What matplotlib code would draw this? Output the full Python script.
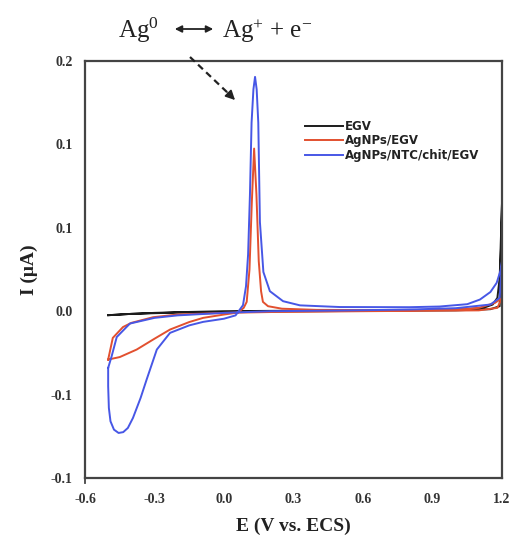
import matplotlib
matplotlib.use("Agg")
import matplotlib.pyplot as plt
from matplotlib.lines import Line2D
from matplotlib.patches import FancyArrowPatch

plt.rcParams['mathtext.fontset'] = 'custom'
plt.rcParams['mathtext.rm'] = 'Liberation Serif'
plt.rcParams['mathtext.it'] = 'Liberation Serif:italic'
plt.rcParams['mathtext.bf'] = 'Liberation Serif:bold'

# ---------------- data ----------------
series_names = ["EGV", "AgNPs/EGV", "AgNPs/NTC/chit/EGV"]

egv_E = [-0.50, -0.45, -0.40, -0.30, -0.20, -0.10, 0.00, 0.30, 0.60, 0.90, 1.05, 1.12, 1.16, 1.18, 1.19, 1.20,
         1.19, 1.15, 1.00, 0.60, 0.20, -0.20, -0.40, -0.50]
egv_I = [-0.0024, -0.0020, -0.0016, -0.0010, -0.0006, -0.0003, 0.0000, 0.0003, 0.0005, 0.0008, 0.0012, 0.0020,
         0.0040, 0.0080, 0.0200, 0.0650,
         0.0030, 0.0012, 0.0005, 0.0002, -0.0002, -0.0008, -0.0016, -0.0024]

red_E = [-0.500, -0.450, -0.377, -0.300, -0.233, -0.150, -0.090, 0.000, 0.060, 0.085, 0.098, 0.110, 0.120, 0.130,
         0.140, 0.150, 0.160, 0.168, 0.190, 0.250, 0.400, 0.800, 1.000, 1.100, 1.170, 1.200,
         1.180, 1.100, 0.600, 0.200, 0.000, -0.200, -0.306, -0.400, -0.436, -0.480, -0.500]
red_I = [-0.0290, -0.0275, -0.0230, -0.0165, -0.0110, -0.0065, -0.0040, -0.0020, -0.0008, 0.0020, 0.0056, 0.0250,
         0.0650, 0.0975, 0.0700, 0.0300, 0.0120, 0.0056, 0.0030, 0.0015, 0.0008, 0.0006, 0.0010, 0.0020, 0.0050,
         0.0080, 0.0020, 0.0005, 0.0000, -0.0005, -0.0010, -0.0020, -0.0036, -0.0070, -0.0095, -0.0160, -0.0290]

blue_E = [-0.500, -0.500, -0.497, -0.490, -0.475, -0.455, -0.435, -0.415, -0.393, -0.360, -0.334, -0.290, -0.233,
          -0.150, -0.090, 0.000, 0.050, 0.082, 0.095, 0.104, 0.112, 0.119, 0.127, 0.134, 0.141, 0.148, 0.155,
          0.170, 0.198, 0.255, 0.328, 0.500, 0.800, 0.930, 1.050, 1.105, 1.150, 1.177, 1.195, 1.200,
          1.190, 1.150, 1.000, 0.800, 0.500, 0.200, 0.000, -0.200, -0.300, -0.406, -0.463, -0.485, -0.500]
blue_I = [-0.0340, -0.0450, -0.0580, -0.0660, -0.0710, -0.0730, -0.0725, -0.0700, -0.0640, -0.0520, -0.0410,
          -0.0230, -0.0130, -0.0085, -0.0064, -0.0045, -0.0025, 0.0036, 0.0150, 0.0340, 0.0700, 0.1130, 0.1330,
          0.1405, 0.1330, 0.1130, 0.0535, 0.0235, 0.0120, 0.0060, 0.0035, 0.0025, 0.0024, 0.0028, 0.0042, 0.0070,
          0.0115, 0.0170, 0.0250, 0.0300,
          0.0080, 0.0040, 0.0018, 0.0010, 0.0004, 0.0000, -0.0010, -0.0025, -0.0040, -0.0074, -0.0155, -0.0270,
          -0.0340]

x_ticks = [-0.6, -0.3, 0.0, 0.3, 0.6, 0.9, 1.2]
x_ticklabels = ["-0.6", "-0.3", "0.0", "0.3", "0.6", "0.9", "1.2"]
y_ticks = [-0.10, -0.05, 0.00, 0.05, 0.10, 0.15]
y_ticklabels = ["-0.1", "-0.1", "0.0", "0.1", "0.1", "0.2"]

colors = ["#1c1c1c", "#e2502f", "#4757e6"]

# ---------------- figure ----------------
W, H = 513, 539
fig = plt.figure(figsize=(W / 100, H / 100), dpi=100)
ax = fig.add_axes([85 / W, 1 - 478 / H, (502 - 85) / W, (478 - 61) / H])

for E, I, c, name in zip([egv_E, red_E, blue_E], [egv_I, red_I, blue_I], colors, series_names):
    ax.plot(E, I, color=c, lw=1.4, label=name, solid_joinstyle='round')

ax.set_xlim(-0.6, 1.2)
ax.set_ylim(-0.10, 0.15)

serif = 'Liberation Serif'
ax.set_xticks(x_ticks)
ax.set_xticklabels(x_ticklabels, fontfamily=serif, fontweight='bold', fontsize=10, color='#333333')
ax.set_yticks(y_ticks)
ax.set_yticklabels(y_ticklabels, fontfamily=serif, fontweight='bold', fontsize=10, color='#333333')
ax.tick_params(axis='both', which='major', length=0)
ax.tick_params(axis='x', which='major', pad=11)
ax.tick_params(axis='y', which='major', pad=9)
ax.set_xticks([0.0, 0.6, 1.2], minor=True)
ax.set_yticks([-0.1, 0.0, 0.1], minor=True)
ax.tick_params(axis='x', which='minor', direction='in', length=5, width=1.3, color='#444444')
ax.tick_params(axis='y', which='minor', direction='out', length=5, width=1.3, color='#444444')
# corner tick at -0.6 crossing the bottom axis
fig.add_artist(Line2D([85 / W, 85 / W], [1 - 483 / H, 1 - 473 / H], transform=fig.transFigure,
                      color='#444444', lw=1.3))

for s in ax.spines.values():
    s.set_linewidth(1.6)
    s.set_color('#444444')

ax.set_xlabel("E (V vs. ECS)", fontfamily=serif, fontweight='bold', fontsize=14, labelpad=8, color='#222222')
ax.set_ylabel("I (\u03bcA)", fontfamily=serif, fontweight='bold', fontsize=14, labelpad=9, color='#222222')

leg = ax.legend(loc='upper left', bbox_to_anchor=((305 - 85) / 417, 1 - (120 - 61) / 417), frameon=False,
                prop={'family': 'DejaVu Sans', 'weight': 'bold', 'size': 8.5},
                handlelength=3.2, handletextpad=0.2, labelspacing=0.12, borderpad=0, borderaxespad=0)
for t in leg.get_texts():
    t.set_color('#222222')

# annotation at top
fig.text(118 / W, 1 - 38 / H, r"Ag$^{\mathrm{0}}$", fontfamily=serif, fontsize=18, ha='left', va='baseline',
         color='#222222')
fig.text(222 / W, 1 - 38 / H, r"Ag$^{\mathrm{+}}$ + e$^{\mathrm{-}}$", fontfamily=serif, fontsize=18,
         ha='left', va='baseline', color='#222222')
fig.add_artist(FancyArrowPatch((172 / W, 1 - 29 / H), (216 / W, 1 - 29 / H), transform=fig.transFigure,
                               arrowstyle='<|-|>', mutation_scale=10, lw=1.3, color='#222222'))
# dashed pointer arrow
fig.add_artist(Line2D([190 / W, 229 / W], [1 - 57 / H, 1 - 94 / H], transform=fig.transFigure,
                      color='#222222', lw=1.6, ls=(0, (3, 2))))
fig.add_artist(FancyArrowPatch((226 / W, 1 - 91 / H), (237 / W, 1 - 102 / H), transform=fig.transFigure,
                               arrowstyle='-|>', mutation_scale=14, lw=1.2, color='#222222'))

fig.savefig("out.png", dpi=100)
